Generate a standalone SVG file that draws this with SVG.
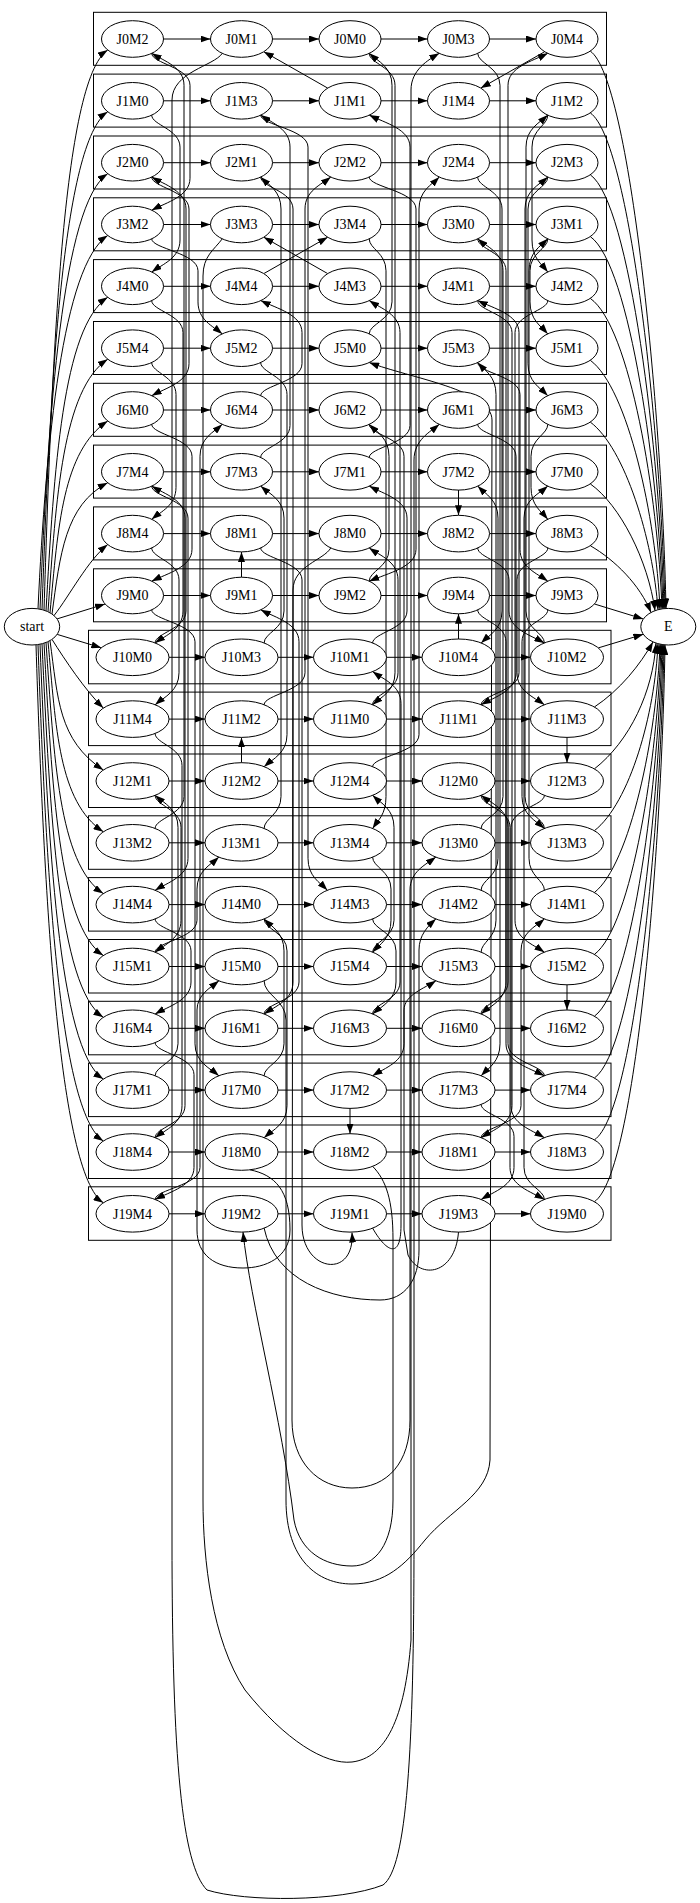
<svg xmlns="http://www.w3.org/2000/svg" width="700" height="1903" viewBox="0 0 700 1903">
<defs>
<marker id="a" markerWidth="10" markerHeight="7" refX="10" refY="3.5" orient="auto" markerUnits="userSpaceOnUse"><path d="M0,0L10,3.5L0,7z" fill="#000" stroke="none"/></marker>
<style>
.c rect{fill:none;stroke:#000;stroke-width:1}
.n ellipse{fill:#fff;stroke:#000;stroke-width:1}
.n text{font-family:"Liberation Serif","Times New Roman",serif;font-size:14px;text-anchor:middle;fill:#000}
</style>
</defs>
<rect width="700" height="1903" fill="#fff"/>
<g id="clusters" class="c">
<rect x="93.5" y="12.3" width="513" height="53"/>
<rect x="93.5" y="74.1" width="513" height="53"/>
<rect x="93.5" y="136" width="513" height="53"/>
<rect x="93.5" y="197.8" width="513" height="53"/>
<rect x="93.5" y="259.6" width="513" height="53"/>
<rect x="93.5" y="321.5" width="513" height="53"/>
<rect x="93.5" y="383.3" width="513" height="53"/>
<rect x="93.5" y="445.1" width="513" height="53"/>
<rect x="93.5" y="506.9" width="513" height="53"/>
<rect x="93.5" y="568.8" width="513" height="53"/>
<rect x="88.5" y="630.3" width="522.5" height="53.5"/>
<rect x="88.5" y="692.1" width="522.5" height="53.5"/>
<rect x="88.5" y="754" width="522.5" height="53.5"/>
<rect x="88.5" y="815.8" width="522.5" height="53.5"/>
<rect x="88.5" y="877.6" width="522.5" height="53.5"/>
<rect x="88.5" y="939.5" width="522.5" height="53.5"/>
<rect x="88.5" y="1001.3" width="522.5" height="53.5"/>
<rect x="88.5" y="1063.1" width="522.5" height="53.5"/>
<rect x="88.5" y="1125" width="522.5" height="53.5"/>
<rect x="88.5" y="1186.8" width="522.5" height="53.5"/>
</g>
<g id="connectors" fill="none" stroke="#000" stroke-width="1" marker-end="url(#a)">
<path d="M163.5,39H210.5"/><path d="M272.5,39H319"/><path d="M381,39H427.5"/><path d="M489.5,39H536"/>
<path d="M163.5,100.8H210.5"/><path d="M272.5,100.8H319"/><path d="M381,100.8H427.5"/><path d="M489.5,100.8H536"/>
<path d="M163.5,162.7H210.5"/><path d="M272.5,162.7H319"/><path d="M381,162.7H427.5"/><path d="M489.5,162.7H536"/>
<path d="M163.5,224.5H210.5"/><path d="M272.5,224.5H319"/><path d="M381,224.5H427.5"/><path d="M489.5,224.5H536"/>
<path d="M163.5,286.3H210.5"/><path d="M272.5,286.3H319"/><path d="M381,286.3H427.5"/><path d="M489.5,286.3H536"/>
<path d="M163.5,348.2H210.5"/><path d="M272.5,348.2H319"/><path d="M381,348.2H427.5"/><path d="M489.5,348.2H536"/>
<path d="M163.5,410H210.5"/><path d="M272.5,410H319"/><path d="M381,410H427.5"/><path d="M489.5,410H536"/>
<path d="M163.5,471.8H210.5"/><path d="M272.5,471.8H319"/><path d="M381,471.8H427.5"/><path d="M489.5,471.8H536"/>
<path d="M163.5,533.6H210.5"/><path d="M272.5,533.6H319"/><path d="M381,533.6H427.5"/><path d="M489.5,533.6H536"/>
<path d="M163.5,595.5H210.5"/><path d="M272.5,595.5H319"/><path d="M381,595.5H427.5"/><path d="M489.5,595.5H536"/>
<path d="M169,657.3H205"/><path d="M278,657.3H313.5"/><path d="M386.5,657.3H422"/><path d="M495,657.3H530.5"/>
<path d="M169,719.1H205"/><path d="M278,719.1H313.5"/><path d="M386.5,719.1H422"/><path d="M495,719.1H530.5"/>
<path d="M169,781H205"/><path d="M278,781H313.5"/><path d="M386.5,781H422"/><path d="M495,781H530.5"/>
<path d="M169,842.8H205"/><path d="M278,842.8H313.5"/><path d="M386.5,842.8H422"/><path d="M495,842.8H530.5"/>
<path d="M169,904.6H205"/><path d="M278,904.6H313.5"/><path d="M386.5,904.6H422"/><path d="M495,904.6H530.5"/>
<path d="M169,966.5H205"/><path d="M278,966.5H313.5"/><path d="M386.5,966.5H422"/><path d="M495,966.5H530.5"/>
<path d="M169,1028.3H205"/><path d="M278,1028.3H313.5"/><path d="M386.5,1028.3H422"/><path d="M495,1028.3H530.5"/>
<path d="M169,1090.1H205"/><path d="M278,1090.1H313.5"/><path d="M386.5,1090.1H422"/><path d="M495,1090.1H530.5"/>
<path d="M169,1152H205"/><path d="M278,1152H313.5"/><path d="M386.5,1152H422"/><path d="M495,1152H530.5"/>
<path d="M169,1213.8H205"/><path d="M278,1213.8H313.5"/><path d="M386.5,1213.8H422"/><path d="M495,1213.8H530.5"/>
<path d="M44,610.2C52,358 62.7,80 107.7,50"/>
<path d="M42,609.6C50,385.6 62.7,141.8 107.7,111.8"/>
<path d="M40,609.2C48,413.2 62.7,203.7 107.7,173.7"/>
<path d="M38,608.8C46,440.8 62.7,265.5 107.7,235.5"/>
<path d="M46,610.9C54,469.8 62.7,327.3 107.7,297.3"/>
<path d="M48,611.8C56,498.1 62.7,389.2 107.7,359.2"/>
<path d="M50,612.8C58,526.5 62.7,451 107.7,421"/>
<path d="M52,614C60,555 65,505 107.7,482.8"/>
<path d="M54,615.6C70,595 88,560 107.7,544.6"/>
<path d="M57.1,618.9L105.1,604"/>
<path d="M57.2,634.4L101.3,647.8"/>
<path d="M52,639.4C65,660 85,690 103.3,708.1"/>
<path d="M50,640.6C58,698.8 58.3,740 103.3,770"/>
<path d="M48,641.6C56,727.2 58.3,801.8 103.3,831.8"/>
<path d="M46,642.5C54,755.5 58.3,863.6 103.3,893.6"/>
<path d="M44,643.2C52,783.7 58.3,925.5 103.3,955.5"/>
<path d="M42,643.8C50,811.9 58.3,987.3 103.3,1017.3"/>
<path d="M40,644.2C48,839.9 58.3,1049.1 103.3,1079.1"/>
<path d="M38,644.6C46,868 58.3,1111 103.3,1141"/>
<path d="M36,644.8C44,895.9 58.3,1172.8 103.3,1202.8"/>
<path d="M590.3,51.1C630,79 662,409.2 666,608.5"/>
<path d="M590.3,112.9C630,140.8 661,430.8 665,608.5"/>
<path d="M590.3,174.8C630,202.7 660,452.5 664,608.6"/>
<path d="M590.3,236.6C630,264.5 659,474.2 663,608.7"/>
<path d="M590.3,298.4C630,326.3 658,496 662,608.9"/>
<path d="M590.3,360.3C628,388.2 656,517.9 660,609.3"/>
<path d="M590.3,422.1C625,448 653,539.8 658,609.7"/>
<path d="M590.3,483.9C620,505 648,560 655,610.7"/>
<path d="M590.3,545.7C615,560 640,585 651,612.5"/>
<path d="M594.5,604L643.3,619"/>
<path d="M598.3,647.9L643.3,634.3"/>
<path d="M594.4,707C620,690 640,665 653,641.9"/>
<path d="M594.4,768.9C630,741 653,691.4 656,643.1"/>
<path d="M594.4,830.7C630,802.8 655,713.4 658,643.7"/>
<path d="M594.4,892.5C630,864.6 657,735.3 660,644.2"/>
<path d="M594.4,954.4C632,926.5 658,757.1 661,644.4"/>
<path d="M594.4,1016.2C633,988.3 659,778.8 662,644.5"/>
<path d="M594.4,1078C634,1050.1 660,800.6 663,644.7"/>
<path d="M594.4,1139.9C635,1112 661,822.3 664,644.8"/>
<path d="M594.4,1201.7C636,1173.8 662,844 665,644.9"/>
<path d="M151.7,115.1C151.7,125.1 180,129.1 180,147.1L180,240C180,258 163,264 151.7,272"/>
<path d="M151.7,300.6C151.7,310.6 183,314.6 183,332.6L183,611C183,629 166.3,635 155.1,643"/>
<path d="M155.1,643C155.1,633 186,629 186,611L186,209C186,191 165.4,185 151.7,177"/>
<path d="M151.7,177C151.7,187 189,191 189,209L189,363.7C189,381.7 166.6,387.7 151.7,395.7"/>
<path d="M151.7,424.3C151.7,434.3 192,438.3 192,456.3L192,549.2C192,567.2 167.8,573.2 151.7,581.2"/>
<path d="M151.7,609.8C151.7,619.8 195,623.8 195,641.8L195,1043.8C195,1061.8 209.3,1067.8 218.9,1075.8"/>
<path d="M264.1,1075.8C264.1,1065.8 284,1061.8 284,1043.8L284,950.9C284,932.9 272,926.9 264.1,918.9"/>
<path d="M264.1,918.9C264.1,928.9 287,932.9 287,950.9L287,1105.7C287,1123.7 273.3,1129.7 264.1,1137.7"/>
<path d="M250,1169.8C275,1175 290,1190 290,1230C290,1258 265,1268 243,1268C215,1268 197,1255 197,1230L197,1010C197,995 210,988 218.9,980.8"/>
<path d="M264.1,980.8C264.1,995 286,1000 286,1020L286,1500C286,1560 318,1584 352,1584C385,1584 405,1565 425,1540C450,1510 488,1495 490,1460L492,420C492,390 410,378 369.2,362.5"/>
<path d="M369.2,333.9C369.2,323.9 392,319.9 392,301.9L392,85.3C392,67.3 378.3,61.3 369.2,53.3"/>
<path d="M369.2,53.3C369.2,63.3 395,67.3 395,85.3L395,672.8C395,690.8 381.6,696.8 372.6,704.8"/>
<path d="M372.6,704.8C372.6,694.8 398,690.8 398,672.8L398,579.9C398,561.9 380.7,555.9 369.2,547.9"/>
<path d="M330.8,547.9C324,560 293,566 293,590L292,1420C292,1462 318,1488 352,1488C388,1488 410,1462 410,1420L410,890C410,872 425,865 435.9,857.1"/>
<path d="M481.1,828.5C481.1,818.5 503,814.5 503,796.5L503,270.8C503,252.8 487,246.8 477.7,238.8"/>
<path d="M477.7,238.8C477.7,248.8 506,252.8 506,270.8L506,982C506,1000 490.3,1006 481.1,1014"/>
<path d="M481.1,1014C481.1,1004 508,1000 508,982L508,827.3C508,809.3 491.5,803.3 481.1,795.3"/>
<path d="M481.1,795.3C481.1,805.3 510,809.3 510,827.3L510,1167.5C510,1185.5 530.6,1191.5 544.4,1199.5"/>
<path d="M544.4,1199.5C544.4,1189.5 524,1185.5 524,1167.5L524,518.1C524,500.1 538.3,494.1 547.8,486.1"/>
<path d="M155.1,1075.8C155.1,1065.8 178,1061.8 178,1043.8L178,827.3C178,809.3 164.3,803.3 155.1,795.3"/>
<path d="M155.1,795.3C155.1,805.3 181,809.3 181,827.3L181,920.2C181,938.2 165.5,944.2 155.1,952.2"/>
<path d="M155.1,952.2C155.1,942.2 197,938.2 197,920.2L197,889.1C197,871.1 210.1,865.1 218.9,857.1"/>
<path d="M264.1,828.5C264.1,818.5 281,814.5 281,796.5L281,209C281,191 268.8,185 260.7,177"/>
<path d="M260.7,177C260.7,187 293,191 293,209L293,982C293,1000 275.7,1006 264.1,1014"/>
<path d="M264.1,1014C264.1,1004 299,1000 299,982L299,641.8C299,623.8 276,617.8 260.7,609.8"/>
<path d="M241.5,577.2L241.5,551.9"/>
<path d="M260.7,547.9C260.7,557.9 302,561.9 302,579.9L302,1225C302,1272 355,1280 352,1232.6"/>
<path d="M372.6,1228.1C385,1250 401,1262 401,1225L401,703.6C401,685.6 384,679.6 372.6,671.6"/>
<path d="M372.6,643C372.6,633 407,629 407,611L407,518.1C407,500.1 384.3,494.1 369.2,486.1"/>
<path d="M369.2,457.5C369.2,447.5 410,443.5 410,425.5L410,147.1C410,129.1 385.5,123.1 369.2,115.1"/>
<path d="M327.7,88.1L263.8,51.7"/>
<path d="M222.3,53.3C214,66 172,72 172,100L172,1540C172,1760 182,1865 207,1890C245,1902 340,1902 383,1885C407,1868 414,1750 414,1540L414,460C414,440 430,432 439.3,424.3"/>
<path d="M477.7,424.3C477.7,434.3 516,438.3 516,456.3L516,672.8C516,690.8 495.1,696.8 481.1,704.8"/>
<path d="M481.1,704.8C481.1,694.8 519,690.8 519,672.8L519,332.6C519,314.6 494.2,308.6 477.7,300.6"/>
<path d="M477.7,300.6C477.7,310.6 512,314.6 512,332.6L512,1105.7C512,1123.7 493.5,1129.7 481.1,1137.7"/>
<path d="M481.1,1137.7C481.1,1127.7 521,1123.7 521,1105.7L521,950.9C521,932.9 535,926.9 544.4,918.9"/>
<path d="M544.4,890.3C544.4,880.3 529,876.3 529,858.3L529,270.8C529,252.8 539.5,246.8 547.8,238.8"/>
<path d="M547.8,238.8C547.8,248.8 530,252.8 530,270.8L530,301.9C530,319.9 540.7,325.9 547.8,333.9"/>
<path d="M155.1,828.5C155.1,818.5 184,814.5 184,796.5L184,85.3C184,67.3 164.6,61.3 151.7,53.3"/>
<path d="M151.7,53.3C151.7,63.3 190,67.3 190,85.3L190,178.2C190,196.2 167,202.2 151.7,210.2"/>
<path d="M151.7,238.8C151.7,248.8 198,252.8 198,270.8L198,301.9C198,319.9 212.6,325.9 222.3,333.9"/>
<path d="M260.7,362.5C260.7,372.5 287,376.5 287,394.5L287,734.7C287,752.7 273.3,758.7 264.1,766.7"/>
<path d="M241.5,762.7L241.5,737.4"/>
<path d="M264.1,704.8C264.1,694.8 305,690.8 305,672.8L305,209C305,191 320.5,185 330.8,177"/>
<path d="M369.2,177C369.2,187 416,191 416,209L416,549.2C416,567.2 387.9,573.2 369.2,581.2"/>
<path d="M369.2,581.2C369.2,571.2 389,567.2 389,549.2L389,456.3C389,438.3 377.1,432.3 369.2,424.3"/>
<path d="M369.2,424.3C369.2,434.3 404,438.3 404,456.3L404,1043.8C404,1061.8 385.2,1067.8 372.6,1075.8"/>
<path d="M350,1108.4L350,1133.7"/>
<path d="M372.6,1166.3C386,1180 393,1200 393,1240L393,1500C393,1545 375,1566 352,1566C325,1566 300,1552 294,1520C282,1420 250,1300 243,1232.1"/>
<path d="M264.1,1228.1C275,1280 330,1300 380,1300C405,1300 419,1280 419,1250L419,950C419,935 428,926 435.9,918.9"/>
<path d="M481.1,890.3C481.1,880.3 498,876.3 498,858.3L498,518.1C498,500.1 485.8,494.1 477.7,486.1"/>
<path d="M458.5,490.1L458.5,515.3"/>
<path d="M477.7,547.9C477.7,557.9 509,561.9 509,579.9L509,611C509,629 530.2,635 544.4,643"/>
<path d="M544.4,643C544.4,633 526,629 526,611L526,147.1C526,129.1 539.1,123.1 547.8,115.1"/>
<path d="M547.8,115.1C547.8,125.1 532,129.1 532,147.1L532,240C532,258 541.5,264 547.8,272"/>
<path d="M547.8,300.6C547.8,310.6 515,314.6 515,332.6L515,920.2C515,938.2 532.6,944.2 544.4,952.2"/>
<path d="M567,984.8L567,1010"/>
<path d="M264.1,643C264.1,633 284,629 284,611L284,518.1C284,500.1 270,494.1 260.7,486.1"/>
<path d="M260.7,457.5C260.7,447.5 290,443.5 290,425.5L290,147.1C290,129.1 272.4,123.1 260.7,115.1"/>
<path d="M260.7,115.1C260.7,125.1 308,129.1 308,147.1L308,858.3C308,876.3 319.6,882.3 327.4,890.3"/>
<path d="M372.6,918.9C372.6,928.9 396,932.9 396,950.9L396,982C396,1000 382,1006 372.6,1014"/>
<path d="M372.6,1014C372.6,1004 400,1000 400,982L400,332.6C400,314.6 381.5,308.6 369.2,300.6"/>
<path d="M327.7,273.6L263.8,237.2"/>
<path d="M222.3,238.8C214,250 203,256 203,276L203,1500C203,1560 212,1640 245,1690C285,1740 325,1765 352,1762C385,1758 405,1720 411,1640L411,90C411,70 428,60 439.3,53.3"/>
<path d="M477.7,53.3C477.7,63.3 500,67.3 500,85.3L500,1043.8C500,1061.8 488.7,1067.8 481.1,1075.8"/>
<path d="M481.1,1104.4C481.1,1114.4 514,1118.4 514,1136.4L514,1167.5C514,1185.5 494.3,1191.5 481.1,1199.5"/>
<path d="M458.5,1232.1C455,1275 420,1280 408,1255L404,1230L404,1010C404,995 425,988 435.9,980.8"/>
<path d="M481.1,952.2C481.1,942.2 496,938.2 496,920.2L496,394.5C496,376.5 485,370.5 477.7,362.5"/>
<path d="M477.7,362.5C477.7,372.5 520,376.5 520,394.5L520,549.2C520,567.2 536.7,573.2 547.8,581.2"/>
<path d="M547.8,609.8C547.8,619.8 522,623.8 522,641.8L522,796.5C522,814.5 535.4,820.5 544.4,828.5"/>
<path d="M544.4,828.5C544.4,818.5 525,814.5 525,796.5L525,209C525,191 538.7,185 547.8,177"/>
<path d="M547.8,177C547.8,187 528,191 528,209L528,363.7C528,381.7 539.9,387.7 547.8,395.7"/>
<path d="M547.8,424.3C547.8,434.3 531,438.3 531,456.3L531,487.3C531,505.3 541.1,511.3 547.8,519.3"/>
<path d="M547.8,547.9C547.8,557.9 517,561.9 517,579.9L517,672.8C517,690.8 533.4,696.8 544.4,704.8"/>
<path d="M567,737.4L567,762.7"/>
<path d="M544.4,795.3C544.4,805.3 511,809.3 511,827.3L511,1105.7C511,1123.7 531,1129.7 544.4,1137.7"/>
<path d="M151.7,362.5C151.7,372.5 176,376.5 176,394.5L176,487.3C176,505.3 161.4,511.3 151.7,519.3"/>
<path d="M151.7,547.9C151.7,557.9 179,561.9 179,579.9L179,672.8C179,690.8 164.7,696.8 155.1,704.8"/>
<path d="M155.1,733.4C155.1,743.4 182,747.4 182,765.4L182,1105.7C182,1123.7 165.8,1129.7 155.1,1137.7"/>
<path d="M155.1,1137.7C155.1,1127.7 185,1123.7 185,1105.7L185,518.1C185,500.1 165,494.1 151.7,486.1"/>
<path d="M151.7,486.1C151.7,496.1 188,500.1 188,518.1L188,858.3C188,876.3 168.3,882.3 155.1,890.3"/>
<path d="M155.1,918.9C155.1,928.9 191,932.9 191,950.9L191,982C191,1000 169.5,1006 155.1,1014"/>
<path d="M155.1,1042.6C155.1,1052.6 194,1056.6 194,1074.6L194,1167.5C194,1185.5 170.7,1191.5 155.1,1199.5"/>
<path d="M155.1,1199.5C155.1,1189.5 200,1185.5 200,1167.5L200,456.3C200,438.3 213.4,432.3 222.3,424.3"/>
<path d="M260.7,395.7C260.7,385.7 302,381.7 302,363.7L302,332.6C302,314.6 277.2,308.6 260.7,300.6"/>
<path d="M263.8,273.6L327.7,237.2"/>
<path d="M369.2,238.8C369.2,248.8 386,252.8 386,270.8L386,796.5C386,814.5 378,820.5 372.6,828.5"/>
<path d="M372.6,857.1C372.6,867.1 391,871.1 391,889.1L391,920.2C391,938.2 380,944.2 372.6,952.2"/>
<path d="M372.6,952.2C372.6,942.2 394,938.2 394,920.2L394,827.3C394,809.3 381.2,803.3 372.6,795.3"/>
<path d="M372.6,766.7C372.6,756.7 419,752.7 419,734.7L419,209C419,191 431.2,185 439.3,177"/>
<path d="M477.7,177C477.7,187 502,191 502,209L502,611C502,629 489.5,635 481.1,643"/>
<path d="M458.5,639L458.5,613.8"/>
<path d="M477.7,609.8C477.7,619.8 506,623.8 506,641.8L506,1043.8C506,1061.8 529,1067.8 544.4,1075.8"/>
<path d="M544.4,1075.8C544.4,1065.8 508,1061.8 508,1043.8L508,85.3C508,67.3 531.9,61.3 547.8,53.3"/>
<path d="M544.7,51.7L480.8,88.1"/>
</g>
<g id="nodes" class="n">
<g id="start"><ellipse cx="32" cy="626.7" rx="27.7" ry="18.3"/><text x="32" y="631.4">start</text></g>
<g id="E"><ellipse cx="668.3" cy="626.7" rx="27.5" ry="18.3"/><text x="668.3" y="631.4">E</text></g>
<g id="J0M2"><ellipse cx="132.5" cy="39" rx="31" ry="18.3"/><text x="132.5" y="43.7">J0M2</text></g>
<g id="J0M1"><ellipse cx="241.5" cy="39" rx="31" ry="18.3"/><text x="241.5" y="43.7">J0M1</text></g>
<g id="J0M0"><ellipse cx="350" cy="39" rx="31" ry="18.3"/><text x="350" y="43.7">J0M0</text></g>
<g id="J0M3"><ellipse cx="458.5" cy="39" rx="31" ry="18.3"/><text x="458.5" y="43.7">J0M3</text></g>
<g id="J0M4"><ellipse cx="567" cy="39" rx="31" ry="18.3"/><text x="567" y="43.7">J0M4</text></g>
<g id="J1M0"><ellipse cx="132.5" cy="100.8" rx="31" ry="18.3"/><text x="132.5" y="105.5">J1M0</text></g>
<g id="J1M3"><ellipse cx="241.5" cy="100.8" rx="31" ry="18.3"/><text x="241.5" y="105.5">J1M3</text></g>
<g id="J1M1"><ellipse cx="350" cy="100.8" rx="31" ry="18.3"/><text x="350" y="105.5">J1M1</text></g>
<g id="J1M4"><ellipse cx="458.5" cy="100.8" rx="31" ry="18.3"/><text x="458.5" y="105.5">J1M4</text></g>
<g id="J1M2"><ellipse cx="567" cy="100.8" rx="31" ry="18.3"/><text x="567" y="105.5">J1M2</text></g>
<g id="J2M0"><ellipse cx="132.5" cy="162.7" rx="31" ry="18.3"/><text x="132.5" y="167.4">J2M0</text></g>
<g id="J2M1"><ellipse cx="241.5" cy="162.7" rx="31" ry="18.3"/><text x="241.5" y="167.4">J2M1</text></g>
<g id="J2M2"><ellipse cx="350" cy="162.7" rx="31" ry="18.3"/><text x="350" y="167.4">J2M2</text></g>
<g id="J2M4"><ellipse cx="458.5" cy="162.7" rx="31" ry="18.3"/><text x="458.5" y="167.4">J2M4</text></g>
<g id="J2M3"><ellipse cx="567" cy="162.7" rx="31" ry="18.3"/><text x="567" y="167.4">J2M3</text></g>
<g id="J3M2"><ellipse cx="132.5" cy="224.5" rx="31" ry="18.3"/><text x="132.5" y="229.2">J3M2</text></g>
<g id="J3M3"><ellipse cx="241.5" cy="224.5" rx="31" ry="18.3"/><text x="241.5" y="229.2">J3M3</text></g>
<g id="J3M4"><ellipse cx="350" cy="224.5" rx="31" ry="18.3"/><text x="350" y="229.2">J3M4</text></g>
<g id="J3M0"><ellipse cx="458.5" cy="224.5" rx="31" ry="18.3"/><text x="458.5" y="229.2">J3M0</text></g>
<g id="J3M1"><ellipse cx="567" cy="224.5" rx="31" ry="18.3"/><text x="567" y="229.2">J3M1</text></g>
<g id="J4M0"><ellipse cx="132.5" cy="286.3" rx="31" ry="18.3"/><text x="132.5" y="291">J4M0</text></g>
<g id="J4M4"><ellipse cx="241.5" cy="286.3" rx="31" ry="18.3"/><text x="241.5" y="291">J4M4</text></g>
<g id="J4M3"><ellipse cx="350" cy="286.3" rx="31" ry="18.3"/><text x="350" y="291">J4M3</text></g>
<g id="J4M1"><ellipse cx="458.5" cy="286.3" rx="31" ry="18.3"/><text x="458.5" y="291">J4M1</text></g>
<g id="J4M2"><ellipse cx="567" cy="286.3" rx="31" ry="18.3"/><text x="567" y="291">J4M2</text></g>
<g id="J5M4"><ellipse cx="132.5" cy="348.2" rx="31" ry="18.3"/><text x="132.5" y="352.9">J5M4</text></g>
<g id="J5M2"><ellipse cx="241.5" cy="348.2" rx="31" ry="18.3"/><text x="241.5" y="352.9">J5M2</text></g>
<g id="J5M0"><ellipse cx="350" cy="348.2" rx="31" ry="18.3"/><text x="350" y="352.9">J5M0</text></g>
<g id="J5M3"><ellipse cx="458.5" cy="348.2" rx="31" ry="18.3"/><text x="458.5" y="352.9">J5M3</text></g>
<g id="J5M1"><ellipse cx="567" cy="348.2" rx="31" ry="18.3"/><text x="567" y="352.9">J5M1</text></g>
<g id="J6M0"><ellipse cx="132.5" cy="410" rx="31" ry="18.3"/><text x="132.5" y="414.7">J6M0</text></g>
<g id="J6M4"><ellipse cx="241.5" cy="410" rx="31" ry="18.3"/><text x="241.5" y="414.7">J6M4</text></g>
<g id="J6M2"><ellipse cx="350" cy="410" rx="31" ry="18.3"/><text x="350" y="414.7">J6M2</text></g>
<g id="J6M1"><ellipse cx="458.5" cy="410" rx="31" ry="18.3"/><text x="458.5" y="414.7">J6M1</text></g>
<g id="J6M3"><ellipse cx="567" cy="410" rx="31" ry="18.3"/><text x="567" y="414.7">J6M3</text></g>
<g id="J7M4"><ellipse cx="132.5" cy="471.8" rx="31" ry="18.3"/><text x="132.5" y="476.5">J7M4</text></g>
<g id="J7M3"><ellipse cx="241.5" cy="471.8" rx="31" ry="18.3"/><text x="241.5" y="476.5">J7M3</text></g>
<g id="J7M1"><ellipse cx="350" cy="471.8" rx="31" ry="18.3"/><text x="350" y="476.5">J7M1</text></g>
<g id="J7M2"><ellipse cx="458.5" cy="471.8" rx="31" ry="18.3"/><text x="458.5" y="476.5">J7M2</text></g>
<g id="J7M0"><ellipse cx="567" cy="471.8" rx="31" ry="18.3"/><text x="567" y="476.5">J7M0</text></g>
<g id="J8M4"><ellipse cx="132.5" cy="533.6" rx="31" ry="18.3"/><text x="132.5" y="538.3">J8M4</text></g>
<g id="J8M1"><ellipse cx="241.5" cy="533.6" rx="31" ry="18.3"/><text x="241.5" y="538.3">J8M1</text></g>
<g id="J8M0"><ellipse cx="350" cy="533.6" rx="31" ry="18.3"/><text x="350" y="538.3">J8M0</text></g>
<g id="J8M2"><ellipse cx="458.5" cy="533.6" rx="31" ry="18.3"/><text x="458.5" y="538.3">J8M2</text></g>
<g id="J8M3"><ellipse cx="567" cy="533.6" rx="31" ry="18.3"/><text x="567" y="538.3">J8M3</text></g>
<g id="J9M0"><ellipse cx="132.5" cy="595.5" rx="31" ry="18.3"/><text x="132.5" y="600.2">J9M0</text></g>
<g id="J9M1"><ellipse cx="241.5" cy="595.5" rx="31" ry="18.3"/><text x="241.5" y="600.2">J9M1</text></g>
<g id="J9M2"><ellipse cx="350" cy="595.5" rx="31" ry="18.3"/><text x="350" y="600.2">J9M2</text></g>
<g id="J9M4"><ellipse cx="458.5" cy="595.5" rx="31" ry="18.3"/><text x="458.5" y="600.2">J9M4</text></g>
<g id="J9M3"><ellipse cx="567" cy="595.5" rx="31" ry="18.3"/><text x="567" y="600.2">J9M3</text></g>
<g id="J10M0"><ellipse cx="132.5" cy="657.3" rx="36.5" ry="18.3"/><text x="132.5" y="662">J10M0</text></g>
<g id="J10M3"><ellipse cx="241.5" cy="657.3" rx="36.5" ry="18.3"/><text x="241.5" y="662">J10M3</text></g>
<g id="J10M1"><ellipse cx="350" cy="657.3" rx="36.5" ry="18.3"/><text x="350" y="662">J10M1</text></g>
<g id="J10M4"><ellipse cx="458.5" cy="657.3" rx="36.5" ry="18.3"/><text x="458.5" y="662">J10M4</text></g>
<g id="J10M2"><ellipse cx="567" cy="657.3" rx="36.5" ry="18.3"/><text x="567" y="662">J10M2</text></g>
<g id="J11M4"><ellipse cx="132.5" cy="719.1" rx="36.5" ry="18.3"/><text x="132.5" y="723.8">J11M4</text></g>
<g id="J11M2"><ellipse cx="241.5" cy="719.1" rx="36.5" ry="18.3"/><text x="241.5" y="723.8">J11M2</text></g>
<g id="J11M0"><ellipse cx="350" cy="719.1" rx="36.5" ry="18.3"/><text x="350" y="723.8">J11M0</text></g>
<g id="J11M1"><ellipse cx="458.5" cy="719.1" rx="36.5" ry="18.3"/><text x="458.5" y="723.8">J11M1</text></g>
<g id="J11M3"><ellipse cx="567" cy="719.1" rx="36.5" ry="18.3"/><text x="567" y="723.8">J11M3</text></g>
<g id="J12M1"><ellipse cx="132.5" cy="781" rx="36.5" ry="18.3"/><text x="132.5" y="785.7">J12M1</text></g>
<g id="J12M2"><ellipse cx="241.5" cy="781" rx="36.5" ry="18.3"/><text x="241.5" y="785.7">J12M2</text></g>
<g id="J12M4"><ellipse cx="350" cy="781" rx="36.5" ry="18.3"/><text x="350" y="785.7">J12M4</text></g>
<g id="J12M0"><ellipse cx="458.5" cy="781" rx="36.5" ry="18.3"/><text x="458.5" y="785.7">J12M0</text></g>
<g id="J12M3"><ellipse cx="567" cy="781" rx="36.5" ry="18.3"/><text x="567" y="785.7">J12M3</text></g>
<g id="J13M2"><ellipse cx="132.5" cy="842.8" rx="36.5" ry="18.3"/><text x="132.5" y="847.5">J13M2</text></g>
<g id="J13M1"><ellipse cx="241.5" cy="842.8" rx="36.5" ry="18.3"/><text x="241.5" y="847.5">J13M1</text></g>
<g id="J13M4"><ellipse cx="350" cy="842.8" rx="36.5" ry="18.3"/><text x="350" y="847.5">J13M4</text></g>
<g id="J13M0"><ellipse cx="458.5" cy="842.8" rx="36.5" ry="18.3"/><text x="458.5" y="847.5">J13M0</text></g>
<g id="J13M3"><ellipse cx="567" cy="842.8" rx="36.5" ry="18.3"/><text x="567" y="847.5">J13M3</text></g>
<g id="J14M4"><ellipse cx="132.5" cy="904.6" rx="36.5" ry="18.3"/><text x="132.5" y="909.3">J14M4</text></g>
<g id="J14M0"><ellipse cx="241.5" cy="904.6" rx="36.5" ry="18.3"/><text x="241.5" y="909.3">J14M0</text></g>
<g id="J14M3"><ellipse cx="350" cy="904.6" rx="36.5" ry="18.3"/><text x="350" y="909.3">J14M3</text></g>
<g id="J14M2"><ellipse cx="458.5" cy="904.6" rx="36.5" ry="18.3"/><text x="458.5" y="909.3">J14M2</text></g>
<g id="J14M1"><ellipse cx="567" cy="904.6" rx="36.5" ry="18.3"/><text x="567" y="909.3">J14M1</text></g>
<g id="J15M1"><ellipse cx="132.5" cy="966.5" rx="36.5" ry="18.3"/><text x="132.5" y="971.2">J15M1</text></g>
<g id="J15M0"><ellipse cx="241.5" cy="966.5" rx="36.5" ry="18.3"/><text x="241.5" y="971.2">J15M0</text></g>
<g id="J15M4"><ellipse cx="350" cy="966.5" rx="36.5" ry="18.3"/><text x="350" y="971.2">J15M4</text></g>
<g id="J15M3"><ellipse cx="458.5" cy="966.5" rx="36.5" ry="18.3"/><text x="458.5" y="971.2">J15M3</text></g>
<g id="J15M2"><ellipse cx="567" cy="966.5" rx="36.5" ry="18.3"/><text x="567" y="971.2">J15M2</text></g>
<g id="J16M4"><ellipse cx="132.5" cy="1028.3" rx="36.5" ry="18.3"/><text x="132.5" y="1033">J16M4</text></g>
<g id="J16M1"><ellipse cx="241.5" cy="1028.3" rx="36.5" ry="18.3"/><text x="241.5" y="1033">J16M1</text></g>
<g id="J16M3"><ellipse cx="350" cy="1028.3" rx="36.5" ry="18.3"/><text x="350" y="1033">J16M3</text></g>
<g id="J16M0"><ellipse cx="458.5" cy="1028.3" rx="36.5" ry="18.3"/><text x="458.5" y="1033">J16M0</text></g>
<g id="J16M2"><ellipse cx="567" cy="1028.3" rx="36.5" ry="18.3"/><text x="567" y="1033">J16M2</text></g>
<g id="J17M1"><ellipse cx="132.5" cy="1090.1" rx="36.5" ry="18.3"/><text x="132.5" y="1094.8">J17M1</text></g>
<g id="J17M0"><ellipse cx="241.5" cy="1090.1" rx="36.5" ry="18.3"/><text x="241.5" y="1094.8">J17M0</text></g>
<g id="J17M2"><ellipse cx="350" cy="1090.1" rx="36.5" ry="18.3"/><text x="350" y="1094.8">J17M2</text></g>
<g id="J17M3"><ellipse cx="458.5" cy="1090.1" rx="36.5" ry="18.3"/><text x="458.5" y="1094.8">J17M3</text></g>
<g id="J17M4"><ellipse cx="567" cy="1090.1" rx="36.5" ry="18.3"/><text x="567" y="1094.8">J17M4</text></g>
<g id="J18M4"><ellipse cx="132.5" cy="1152" rx="36.5" ry="18.3"/><text x="132.5" y="1156.7">J18M4</text></g>
<g id="J18M0"><ellipse cx="241.5" cy="1152" rx="36.5" ry="18.3"/><text x="241.5" y="1156.7">J18M0</text></g>
<g id="J18M2"><ellipse cx="350" cy="1152" rx="36.5" ry="18.3"/><text x="350" y="1156.7">J18M2</text></g>
<g id="J18M1"><ellipse cx="458.5" cy="1152" rx="36.5" ry="18.3"/><text x="458.5" y="1156.7">J18M1</text></g>
<g id="J18M3"><ellipse cx="567" cy="1152" rx="36.5" ry="18.3"/><text x="567" y="1156.7">J18M3</text></g>
<g id="J19M4"><ellipse cx="132.5" cy="1213.8" rx="36.5" ry="18.3"/><text x="132.5" y="1218.5">J19M4</text></g>
<g id="J19M2"><ellipse cx="241.5" cy="1213.8" rx="36.5" ry="18.3"/><text x="241.5" y="1218.5">J19M2</text></g>
<g id="J19M1"><ellipse cx="350" cy="1213.8" rx="36.5" ry="18.3"/><text x="350" y="1218.5">J19M1</text></g>
<g id="J19M3"><ellipse cx="458.5" cy="1213.8" rx="36.5" ry="18.3"/><text x="458.5" y="1218.5">J19M3</text></g>
<g id="J19M0"><ellipse cx="567" cy="1213.8" rx="36.5" ry="18.3"/><text x="567" y="1218.5">J19M0</text></g>
</g>
</svg>
